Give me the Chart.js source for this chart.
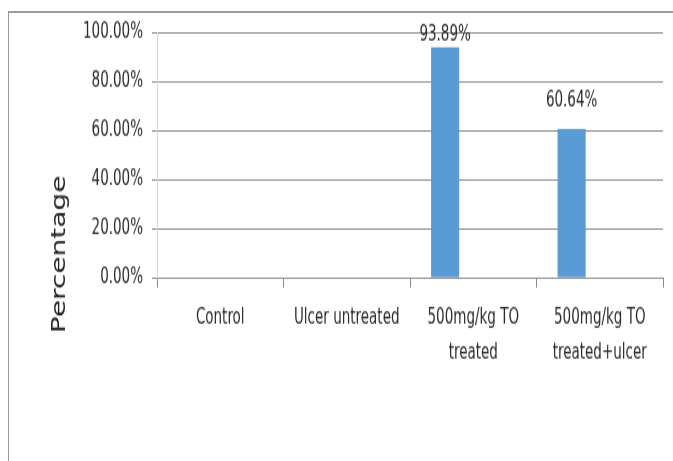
<!DOCTYPE html>
<html>
<head>
<meta charset="utf-8">
<script src="https://cdn.jsdelivr.net/npm/chart.js@4"></script>
<style>
  html, body { margin: 0; padding: 0; background: #fff; overflow: hidden; }
  #frame {
    position: absolute; left: 8px; top: 11px; width: 800px; height: 600px;
    border-top: 2px solid #9a9a9a; border-left: 1px solid #9a9a9a;
  }
  /* the source picture is stretched vertically, so the chart is drawn flat and stretched */
  #wrap {
    position: absolute; left: 0; top: 0; width: 673px; height: 329px;
    transform: scaleY(1.4012); transform-origin: 0 0;
  }
</style>
</head>
<body>
<div id="frame"></div>
<div id="wrap"><canvas id="chart" width="673" height="329"></canvas></div>
<script>
  const categories = ['Control', 'Ulcer untreated', ['500mg/kg TO', 'treated'], ['500mg/kg TO', 'treated+ulcer']];
  const percentValues = [null, null, 93.89, 60.64];
  const emptySeries2 = [null, null, null, null];
  const emptySeries3 = [null, null, null, null];
  const yTicks = [0, 20, 40, 60, 80, 100];

  const narrow = "'Liberation Sans Narrow', 'Arial Narrow', 'DejaVu Sans Condensed', sans-serif";
  const textColor = '#2b2b2b';
  const gridColor = '#8c8c8c';

  // value labels sit above bars (second one was nudged up in the original)
  const labelLift = [0, 0, 8.6, 20];

  const valueLabels = {
    id: 'valueLabels',
    afterDatasetsDraw(chart) {
      const ctx = chart.ctx;
      const meta = chart.getDatasetMeta(0);
      ctx.save();
      ctx.font = '15px ' + narrow;
      ctx.fillStyle = textColor;
      ctx.textAlign = 'center';
      ctx.textBaseline = 'middle';
      meta.data.forEach((bar, i) => {
        const v = percentValues[i];
        if (v === null) return;
        ctx.fillText(v.toFixed(2) + '%', bar.x, bar.y - labelLift[i]);
      });
      ctx.restore();
    }
  };

  const axisTitle = {
    id: 'axisTitle',
    afterDraw(chart) {
      const ctx = chart.ctx;
      ctx.save();
      ctx.translate(60, 181.4);
      ctx.rotate(-Math.PI / 2);
      ctx.font = "20px 'DejaVu Sans', sans-serif";
      ctx.fillStyle = '#222222';
      ctx.textAlign = 'center';
      ctx.textBaseline = 'middle';
      ctx.fillText('Percentage', 0, 0);
      ctx.restore();
    }
  };

  new Chart(document.getElementById('chart').getContext('2d'), {
    type: 'bar',
    data: {
      labels: categories,
      datasets: [
        { label: 'Series 1', data: percentValues, backgroundColor: '#5b9bd5' },
        { label: 'Series 2', data: emptySeries2, backgroundColor: '#ed7d31' },
        { label: 'Series 3', data: emptySeries3, backgroundColor: '#a5a5a5' }
      ]
    },
    options: {
      responsive: false,
      animation: false,
      devicePixelRatio: 1,
      categoryPercentage: 0.667,
      barPercentage: 1,
      layout: { padding: { left: 0, right: 10, top: 23, bottom: 55 } },
      plugins: {
        legend: { display: false },
        tooltip: { enabled: false }
      },
      scales: {
        x: {
          grid: { drawOnChartArea: false, drawTicks: true, tickLength: 7, color: gridColor },
          border: { color: gridColor },
          ticks: {
            padding: 8.7,
            color: textColor,
            maxRotation: 0,
            autoSkip: false,
            font: { family: narrow, size: 15, lineHeight: 1.71 }
          }
        },
        y: {
          min: 0,
          max: 100,
          afterFit(scale) { scale.width = 157; },
          afterBuildTicks(scale) { scale.ticks = yTicks.map(v => ({ value: v })); },
          grid: { color: gridColor, tickLength: 5 },
          border: { color: '#d9d9d9' },
          ticks: {
            padding: 9,
            color: textColor,
            font: { family: narrow, size: 15, lineHeight: 1.2 },
            callback: v => v.toFixed(2) + '%'
          }
        }
      }
    },
    plugins: [valueLabels, axisTitle]
  });
</script>
</body>
</html>
